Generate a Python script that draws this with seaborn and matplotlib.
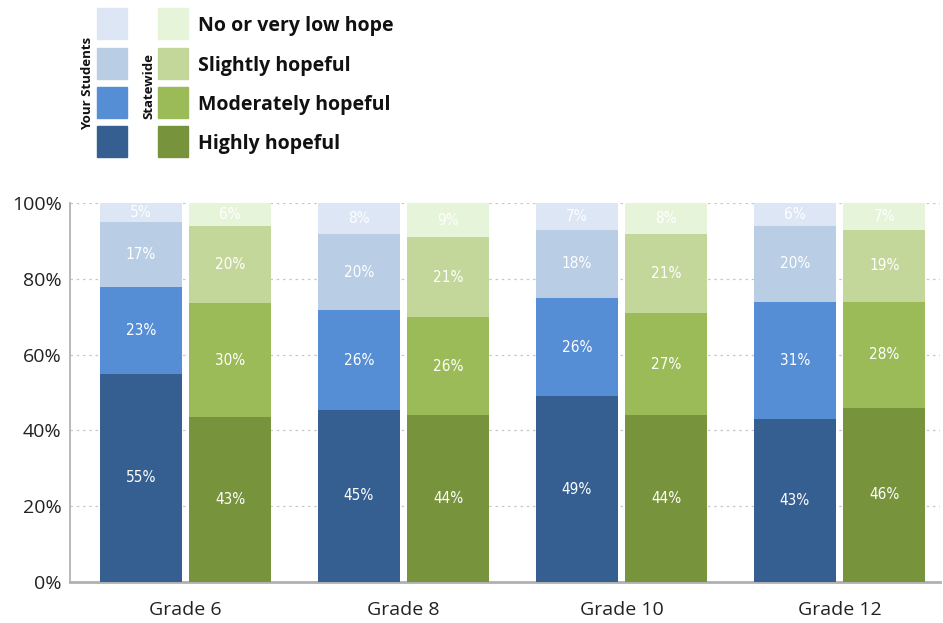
import numpy as np
import seaborn as sns
import matplotlib.pyplot as plt
from matplotlib.patches import Rectangle

# dados (percentuais)
grades = ['Grade 6', 'Grade 8', 'Grade 10', 'Grade 12']
levels = ['Highly hopeful', 'Moderately hopeful', 'Slightly hopeful', 'No or very low hope']

your_highly = [55, 45, 49, 43]
your_moderately = [23, 26, 26, 31]
your_slightly = [17, 20, 18, 20]
your_none = [5, 8, 7, 6]

state_highly = [43, 44, 44, 46]
state_moderately = [30, 26, 27, 28]
state_slightly = [20, 21, 21, 19]
state_none = [6, 9, 8, 7]

blues = ['#365f91', '#558ed5', '#b9cde5', '#dce6f4']
greens = ['#77933c', '#9bbb59', '#c4d79b', '#e6f4da']

sns.set_theme(style='white')
plt.rcParams['font.family'] = ['Open Sans', 'DejaVu Sans']

fig = plt.figure(figsize=(9.43, 6.23), dpi=100)
ax = fig.add_axes([0.0742, 0.0658, 0.9226, 0.608])

x = np.arange(len(grades))
width = 0.376
offset = 0.205

groups = [
    (-offset, [your_highly, your_moderately, your_slightly, your_none], blues),
    (offset, [state_highly, state_moderately, state_slightly, state_none], greens),
]

for off, series, colors in groups:
    arr = np.array(series, dtype=float)
    # normaliza para 100% (os rótulos arredondados nem sempre somam 100)
    heights = arr / arr.sum(axis=0) * 100
    bottom = np.zeros(len(grades))
    for k in range(4):
        ax.bar(x + off, heights[k], width, bottom=bottom, color=colors[k],
               edgecolor='none', zorder=3)
        for i in range(len(grades)):
            ax.text(x[i] + off, bottom[i] + heights[k][i] / 2, f'{int(arr[k][i])}%',
                    ha='center', va='center', color='white', fontsize=11,
                    family='DejaVu Sans', fontstretch='condensed', zorder=4)
        bottom += heights[k]

ax.set_xlim(-0.53, 3.46)
ax.set_ylim(0, 100)
ax.set_yticks([0, 20, 40, 60, 80, 100])
ax.set_yticklabels([f'{v}%' for v in [0, 20, 40, 60, 80, 100]], fontsize=14, color='#222222')
ax.set_xticks(x)
ax.set_xticklabels(grades, fontsize=14, color='#222222')
ax.tick_params(axis='both', length=0, pad=6)
ax.tick_params(axis='x', pad=14)

for v in [20, 40, 60, 80, 100]:
    ax.axhline(v, color='#c8c8c8', lw=0.9, ls=(0, (2, 3)), zorder=1)

sns.despine(ax=ax, top=True, right=True)
ax.spines['left'].set_color('#b0b0b0')
ax.spines['bottom'].set_color('#b0b0b0')
ax.spines['bottom'].set_linewidth(2)

# legenda montada à mão no topo
W, H = 943, 623
rows_y = [8, 48, 87, 126]
for r in range(4):
    y0 = rows_y[r]
    fig.patches.append(Rectangle((97 / W, 1 - (y0 + 31) / H), 30 / W, 31 / H,
                                 transform=fig.transFigure, color=blues[3 - r]))
    fig.patches.append(Rectangle((158 / W, 1 - (y0 + 31) / H), 30 / W, 31 / H,
                                 transform=fig.transFigure, color=greens[3 - r]))
    fig.text(198 / W, 1 - (y0 + 18) / H, levels[3 - r], fontsize=14, fontweight='bold',
             va='center', ha='left', color='#111111')

fig.text(88 / W, 1 - 83 / H, 'Your Students', rotation=90, fontsize=9.5, fontweight='bold',
         va='center', ha='center', color='#111111')
fig.text(149 / W, 1 - 86 / H, 'Statewide', rotation=90, fontsize=9.5, fontweight='bold',
         va='center', ha='center', color='#111111')

fig.savefig('out.png', dpi=100)
